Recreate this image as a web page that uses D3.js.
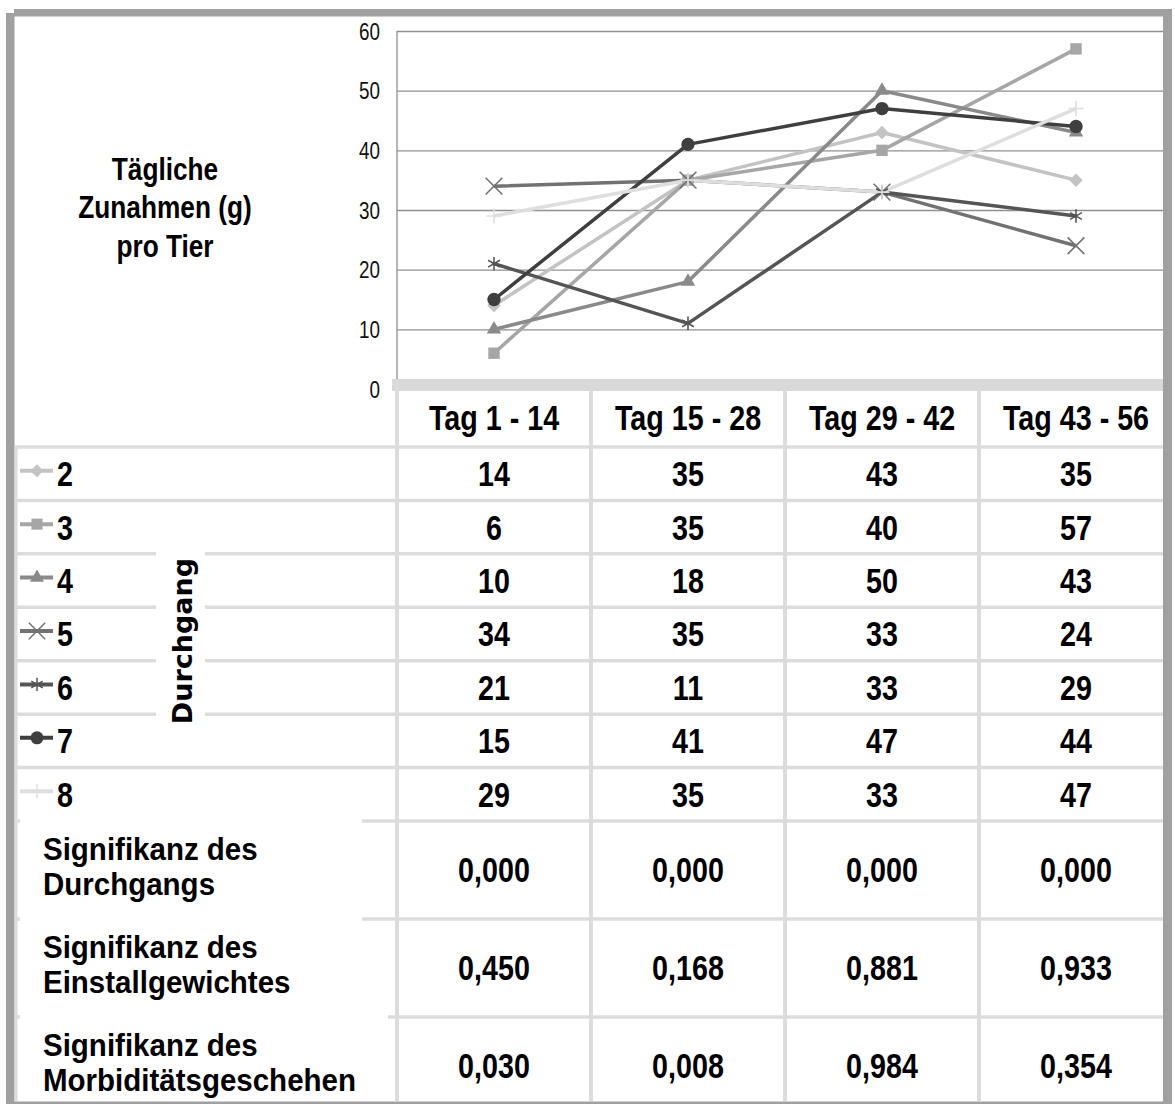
<!DOCTYPE html>
<html><head><meta charset="utf-8">
<script src="https://cdn.jsdelivr.net/npm/d3@7"></script>
<style>html,body{margin:0;padding:0;background:#fff;}svg{display:block;}</style>
</head><body>
<script>
// ---------- data ----------
const categories = ["Tag 1 - 14", "Tag 15 - 28", "Tag 29 - 42", "Tag 43 - 56"];
const seriesNames = ["2", "3", "4", "5", "6", "7", "8"];
const s2 = [14, 35, 43, 35];
const s3 = [6, 35, 40, 57];
const s4 = [10, 18, 50, 43];
const s5 = [34, 35, 33, 24];
const s6 = [21, 11, 33, 29];
const s7 = [15, 41, 47, 44];
const s8 = [29, 35, 33, 47];
const yTicks = [0, 10, 20, 30, 40, 50, 60];
const titleLines = ["Tägliche", "Zunahmen (g)", "pro Tier"];
const legendTitle = "Durchgang";
const sigLabels = [["Signifikanz des", "Durchgangs"], ["Signifikanz des", "Einstallgewichtes"], ["Signifikanz des", "Morbiditätsgeschehen"]];
const sigDurchgang = ["0,000", "0,000", "0,000", "0,000"];
const sigEinstall = ["0,450", "0,168", "0,881", "0,933"];
const sigMorb = ["0,030", "0,008", "0,984", "0,354"];

// ---------- styles ----------
const seriesValues = [s2, s3, s4, s5, s6, s7, s8];
const seriesColors = ["#c3c3c3", "#a6a6a6", "#8a8a8a", "#727272", "#555555", "#3f3f3f", "#dedede"];
const seriesSymbols = [d3.symbolDiamond2, d3.symbolSquare, d3.symbolTriangle, d3.symbolX, d3.symbolAsterisk, d3.symbolCircle, d3.symbolPlus];
const symbolSizes = [115, 130, 90, 185, 130, 140, 75];
const symbolFilled = [true, true, true, false, false, true, false];
const sigRows = [sigDurchgang, sigEinstall, sigMorb];

const W = 1175, H = 1104;
const svg = d3.select("body").append("svg").attr("width", W).attr("height", H);
svg.append("rect").attr("width", W).attr("height", H).attr("fill", "#fff");

// narrow font detection
function hasFont(name) {
  const t = svg.append("text").style("font-size", "40px").text("Tag 1 - 14 abcdefgh");
  t.style("font-family", `'${name}', monospace`);
  const w1 = t.node().getComputedTextLength();
  t.style("font-family", "monospace");
  const w2 = t.node().getComputedTextLength();
  t.remove();
  return Math.abs(w1 - w2) > 1;
}
const NARROW = hasFont("Liberation Sans Narrow");
function narrow(sel) {
  if (NARROW) {
    sel.style("font-family", "'Liberation Sans Narrow', 'Arial Narrow', sans-serif");
  } else {
    sel.style("font-family", "'Liberation Sans', Arial, sans-serif");
    sel.each(function () {
      const el = d3.select(this);
      const px = +el.attr("x") || 0, py = +el.attr("y") || 0;
      el.attr("transform", `translate(${px},${py}) scale(0.82,1) translate(${-px},${-py})`);
    });
  }
  return sel;
}

// ---------- scales ----------
const plotLeft = 397, plotRight = 1173, plotTop = 31, plotBottom = 389, clipRight = 1163;
const x = d3.scaleBand().domain(categories).range([plotLeft, plotRight]).padding(0);
const xc = c => x(c) + x.bandwidth() / 2;
const y = d3.scaleLinear().domain([0, 60]).range([plotBottom, plotTop]);

const dataRowTop = 447, dataRowBottom = 821;
const rowY = d3.scaleBand().domain(seriesNames).range([dataRowTop, dataRowBottom]);
const sigY = d3.scaleBand().domain(d3.range(3)).range([dataRowBottom, 1115]);

const tableLine = "#dcdcdc";

// ---------- outer frame ----------
const frame = "#a0a0a0";
svg.append("rect").attr("x", 14).attr("y", 9).attr("width", 1158).attr("height", 7.5).attr("fill", frame);
svg.append("rect").attr("x", 6).attr("y", 13).attr("width", 8.5).attr("height", H - 13).attr("fill", frame);
svg.append("rect").attr("x", clipRight).attr("y", 9).attr("width", 9).attr("height", H - 9).attr("fill", frame);
svg.append("rect").attr("x", 14).attr("y", 1101.5).attr("width", clipRight - 14).attr("height", 2.5).attr("fill", frame);

// ---------- gridlines ----------
const grid = svg.append("g").attr("transform", `translate(${plotLeft},0)`)
  .call(d3.axisLeft(y).tickValues(yTicks.filter(t => t > 0)).tickSize(-(clipRight - plotLeft)).tickFormat(""));
grid.select(".domain").remove();
grid.selectAll(".tick line").attr("stroke", "#8f8f8f").attr("stroke-width", 1.3);
svg.append("line").attr("x1", plotLeft).attr("x2", plotLeft).attr("y1", plotTop).attr("y2", 380)
  .attr("stroke", "#8f8f8f").attr("stroke-width", 1.3);

// y tick labels
const yAxis = svg.append("g").attr("transform", `translate(${plotLeft},0)`)
  .call(d3.axisLeft(y).tickValues(yTicks).tickSize(0).tickPadding(17));
yAxis.select(".domain").remove();
yAxis.selectAll("text").attr("fill", "#111").style("font-size", "23px").attr("dy", "0.36em");
narrow(yAxis.selectAll("text"));

// ---------- table lines ----------
const tbl = svg.append("g");
tbl.append("rect").attr("x", 392).attr("y", 379).attr("width", clipRight - 392).attr("height", 12).attr("fill", "#d9d9d9");
const hLines = [dataRowTop].concat(seriesNames.map(s => rowY(s) + rowY.bandwidth()), d3.range(3).map(i => sigY(i) + sigY.bandwidth()));
tbl.selectAll(".hl").data(hLines.filter(v => v < 1100)).join("line")
  .attr("x1", 15).attr("x2", clipRight).attr("y1", d => d).attr("y2", d => d)
  .attr("stroke", tableLine).attr("stroke-width", 3.5);
tbl.append("line").attr("x1", 16).attr("x2", 16).attr("y1", dataRowTop).attr("y2", 1101).attr("stroke", tableLine).attr("stroke-width", 3);
tbl.append("line").attr("x1", plotLeft).attr("x2", plotLeft).attr("y1", 384).attr("y2", 1101).attr("stroke", tableLine).attr("stroke-width", 4);
tbl.selectAll(".vl").data(categories.slice(1)).join("line")
  .attr("x1", d => x(d)).attr("x2", d => x(d)).attr("y1", 389).attr("y2", 1101)
  .attr("stroke", tableLine).attr("stroke-width", 4);

// ---------- series ----------
const line = d3.line().x((d, i) => xc(categories[i])).y(d => y(d));
const plot = svg.append("g");
seriesValues.forEach((vals, si) => {
  plot.append("path").attr("d", line(vals)).attr("fill", "none")
    .attr("stroke", seriesColors[si]).attr("stroke-width", 3.5).attr("stroke-linejoin", "round");
});
seriesValues.forEach((vals, si) => {
  const sym = d3.symbol().type(seriesSymbols[si]).size(symbolSizes[si]);
  plot.selectAll(null).data(vals).join("path")
    .attr("transform", (d, i) => `translate(${xc(categories[i])},${y(d)})`)
    .attr("d", sym)
    .attr("fill", symbolFilled[si] ? seriesColors[si] : "none")
    .attr("stroke", seriesColors[si])
    .attr("stroke-width", symbolFilled[si] ? 0 : 1.6);
});

// ---------- title ----------
const titleBase = [180, 218.5, 257];
const title = svg.append("g").selectAll("text").data(titleLines).join("text")
  .attr("x", 165).attr("y", (d, i) => titleBase[i]).attr("text-anchor", "middle")
  .style("font-size", "32px").style("font-weight", "bold").attr("fill", "#000").text(d => d);
narrow(title);

// ---------- header ----------
const hdr = svg.append("g").selectAll("text").data(categories).join("text")
  .attr("x", d => xc(d)).attr("y", 430).attr("text-anchor", "middle")
  .style("font-size", "35px").style("font-weight", "bold").attr("fill", "#000").text(d => d);
narrow(hdr);

// ---------- data rows ----------
seriesNames.forEach((name, si) => {
  const cy = rowY(name) + rowY.bandwidth() / 2;
  const g = svg.append("g");
  g.append("line").attr("x1", 20).attr("x2", 53).attr("y1", cy - 3).attr("y2", cy - 3)
    .attr("stroke", seriesColors[si]).attr("stroke-width", 4);
  g.append("path").attr("transform", `translate(37,${cy - 3})`)
    .attr("d", d3.symbol().type(seriesSymbols[si]).size(symbolSizes[si] * 0.95))
    .attr("fill", symbolFilled[si] ? seriesColors[si] : "none")
    .attr("stroke", seriesColors[si]).attr("stroke-width", symbolFilled[si] ? 0 : 1.5);
  narrow(g.append("text").attr("x", 57).attr("y", cy + 12.5)
    .style("font-size", "35px").style("font-weight", "bold").attr("fill", "#000").text(name));
  narrow(g.selectAll(null).data(seriesValues[si]).join("text")
    .attr("x", (d, i) => xc(categories[i])).attr("y", cy + 12.5).attr("text-anchor", "middle")
    .style("font-size", "35px").style("font-weight", "bold").attr("fill", "#000").text(d => d));
});

// Durchgang label
svg.append("rect").attr("x", 156).attr("y", 552).attr("width", 49).attr("height", 213).attr("fill", "#fff");
svg.append("text").attr("transform", "translate(192,641) rotate(-90)").attr("text-anchor", "middle")
  .style("font-family", "'DejaVu Sans', sans-serif").style("font-weight", "bold").style("font-size", "27px")
  .attr("fill", "#000").text(legendTitle);

// ---------- significance rows ----------
const sigBoxes = [[20, 819, 342, 99], [20, 918, 342, 97], [20, 1015, 368, 86]];
const sigScale = 1.05, sigGap = 35;
sigRows.forEach((vals, ri) => {
  const top = sigY(ri), cy = top + sigY.bandwidth() / 2;
  const b = sigBoxes[ri];
  svg.append("rect").attr("x", b[0]).attr("y", b[1]).attr("width", b[2]).attr("height", b[3]).attr("fill", "#fff");
  const lbl = svg.append("text").attr("transform", `translate(43,${top + 39}) scale(1,${sigScale})`)
    .style("font-family", "'Liberation Sans', Arial, sans-serif").style("font-weight", "bold")
    .style("font-size", "29.5px").attr("fill", "#000");
  lbl.selectAll("tspan").data(sigLabels[ri]).join("tspan")
    .attr("x", 0).attr("dy", (d, i) => i === 0 ? 0 : sigGap / sigScale).text(d => d);
  narrow(svg.append("g").selectAll("text").data(vals).join("text")
    .attr("x", (d, i) => xc(categories[i])).attr("y", cy + 12.5).attr("text-anchor", "middle")
    .style("font-size", "35px").style("font-weight", "bold").attr("fill", "#000").text(d => d));
});
</script>
</body></html>
